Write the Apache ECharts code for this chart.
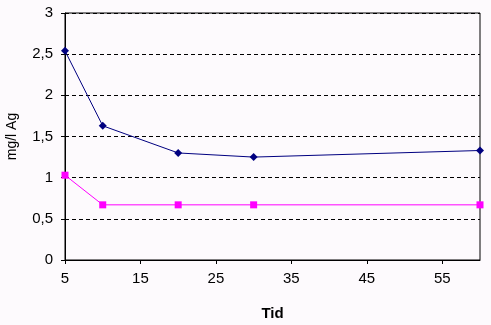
<!DOCTYPE html>
<html><head><meta charset="utf-8">
<script src="https://cdn.jsdelivr.net/npm/echarts@6/dist/echarts.min.js"></script>
<style>html,body{margin:0;padding:0;background:#fdfafd}#c{width:491px;height:325px}</style>
</head><body><div id="c"></div>
<script>
const xTid = [5, 10, 20, 30, 60];
const blueSeries = [2.54, 1.63, 1.30, 1.25, 1.33];
const pinkSeries = [1.03, 0.67, 0.67, 0.67, 0.67];
const yTicks = [0, 0.5, 1, 1.5, 2, 2.5, 3];
const xTicks = [5, 15, 25, 35, 45, 55];

const chart = echarts.init(document.getElementById('c'));
const fmt = v => String(v).replace('.', ',');
chart.setOption({
  backgroundColor: '#fdfafd',
  animation: false,
  grid: {left: 65, right: 11, top: 13, bottom: 65, show: true, borderColor: '#000', borderWidth: 1,
         containLabel: false, outerBoundsMode: 'none'},
  xAxis: {
    type: 'value', min: 5, max: 60, interval: 10,
    name: 'Tid', nameLocation: 'middle', nameGap: 46,
    nameTextStyle: {fontFamily: 'Liberation Sans', fontSize: 15, fontWeight: 'bold', color: '#000'},
    axisLine: {lineStyle: {color: '#000'}},
    axisTick: {show: true, length: 4, lineStyle: {color: '#000'}},
    axisLabel: {fontFamily: 'Liberation Sans', fontSize: 15, color: '#000', margin: 11, showMaxLabel: false,
      formatter: v => xTicks.includes(v) ? fmt(v) : ''},
    splitLine: {show: false}
  },
  yAxis: {
    type: 'value', min: 0, max: 3, interval: 0.5,
    name: 'mg/l Ag', nameLocation: 'middle', nameGap: 46,
    nameTextStyle: {fontFamily: 'Liberation Sans', fontSize: 14, color: '#000'},
    axisLine: {show: true, lineStyle: {color: '#000'}},
    axisTick: {show: true, length: 4, lineStyle: {color: '#000'}},
    axisLabel: {fontFamily: 'Liberation Sans', fontSize: 15, color: '#000', margin: 12,
      formatter: v => yTicks.includes(v) ? fmt(v) : ''},
    splitLine: {show: true, lineStyle: {color: '#000', type: [4, 3], width: 1}}
  },
  series: [
    {type: 'line', data: xTid.map((x, i) => [x, blueSeries[i]]), color: '#000080',
     symbol: 'diamond', symbolSize: 8, lineStyle: {width: 1, color: '#000080'},
     itemStyle: {color: '#000080'}},
    {type: 'line', data: xTid.map((x, i) => [x, pinkSeries[i]]), color: '#ff00ff',
     symbol: 'rect', symbolSize: 7, lineStyle: {width: 1, color: '#ff00ff'},
     itemStyle: {color: '#ff00ff'}}
  ]
});
</script></body></html>
